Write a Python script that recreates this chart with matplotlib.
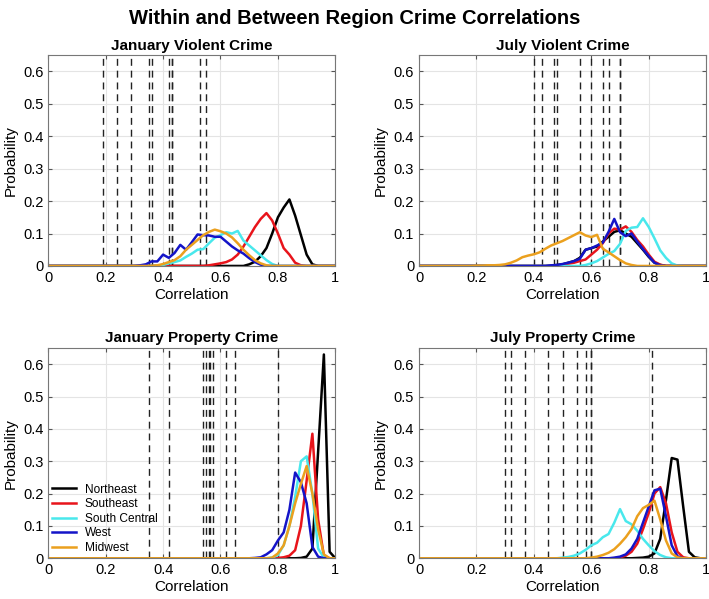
import numpy as np
import matplotlib.pyplot as plt

plt.rcParams['font.family'] = ['Liberation Sans', 'DejaVu Sans']

# correlation bins (0.02 wide)
corr = np.round(np.arange(0, 1.0001, 0.02), 2)

regions = ["Northeast", "Southeast", "South Central", "West", "Midwest"]
region_colors = ["#000000", "#E8141B", "#49E8EC", "#1414C8", "#EBA01E"]

# each curve: (first correlation with a value, probabilities from there on)
jan_violent = {
    "Northeast": (0.70, [0.005, 0.013, 0.03, 0.055, 0.10, 0.15, 0.18, 0.205, 0.155, 0.095, 0.035, 0.005]),
    "Southeast": (0.56, [0.002, 0.005, 0.008, 0.012, 0.02, 0.035, 0.06, 0.09, 0.12, 0.145, 0.163, 0.14, 0.10,
                         0.055, 0.035, 0.01, 0.002]),
    "South Central": (0.40, [0.003, 0.008, 0.012, 0.017, 0.028, 0.038, 0.05, 0.052, 0.07, 0.087, 0.095, 0.104,
                             0.10, 0.108, 0.078, 0.063, 0.048, 0.033, 0.018, 0.006]),
    "West": (0.32, [0.002, 0.005, 0.014, 0.014, 0.035, 0.025, 0.04, 0.065, 0.05, 0.073, 0.097, 0.095, 0.094,
                    0.09, 0.09, 0.075, 0.06, 0.048, 0.038, 0.024, 0.012, 0.004]),
    "Midwest": (0.38, [0.002, 0.006, 0.012, 0.018, 0.03, 0.05, 0.065, 0.08, 0.095, 0.105, 0.112, 0.107, 0.10,
                       0.088, 0.07, 0.05, 0.033, 0.018, 0.008, 0.002]),
}
jul_violent = {
    "Northeast": (0.46, [0.001, 0.003, 0.005, 0.01, 0.015, 0.025, 0.05, 0.055, 0.06, 0.075, 0.09, 0.105, 0.11,
                         0.10, 0.09, 0.07, 0.05, 0.028, 0.01, 0.003]),
    "Southeast": (0.50, [0.004, 0.007, 0.01, 0.015, 0.02, 0.035, 0.05, 0.07, 0.10, 0.115, 0.112, 0.122, 0.105,
                         0.08, 0.06, 0.035, 0.013, 0.004]),
    "South Central": (0.58, [0.003, 0.008, 0.015, 0.026, 0.037, 0.046, 0.068, 0.108, 0.118, 0.12, 0.147, 0.12,
                             0.085, 0.048, 0.025, 0.008, 0.001]),
    "West": (0.46, [0.002, 0.003, 0.006, 0.01, 0.015, 0.022, 0.05, 0.055, 0.063, 0.072, 0.105, 0.145, 0.104,
                    0.092, 0.10, 0.075, 0.052, 0.03, 0.01, 0.002]),
    "Midwest": (0.20, [0.001, 0.001, 0.002, 0.002, 0.003, 0.005, 0.01, 0.017, 0.027, 0.032, 0.036, 0.042, 0.053,
                       0.063, 0.07, 0.077, 0.086, 0.095, 0.104, 0.094, 0.089, 0.096, 0.053, 0.042, 0.03, 0.018,
                       0.008, 0.003]),
}
jan_property = {
    "Northeast": (0.88, [0.001, 0.005, 0.03, 0.33, 0.63, 0.02]),
    "Southeast": (0.80, [0.001, 0.003, 0.008, 0.025, 0.10, 0.24, 0.385, 0.12, 0.008]),
    "South Central": (0.78, [0.002, 0.01, 0.04, 0.10, 0.19, 0.30, 0.315, 0.20, 0.03, 0.002]),
    "West": (0.72, [0.001, 0.003, 0.012, 0.025, 0.055, 0.08, 0.15, 0.265, 0.235, 0.17, 0.035, 0.005]),
    "Midwest": (0.78, [0.002, 0.015, 0.04, 0.10, 0.17, 0.23, 0.285, 0.20, 0.09, 0.012]),
}
jul_property = {
    "Northeast": (0.76, [0.001, 0.002, 0.005, 0.015, 0.06, 0.18, 0.31, 0.305, 0.16, 0.02, 0.003]),
    "Southeast": (0.70, [0.003, 0.008, 0.02, 0.045, 0.09, 0.14, 0.20, 0.22, 0.17, 0.08, 0.02, 0.003]),
    "South Central": (0.50, [0.002, 0.004, 0.008, 0.015, 0.026, 0.04, 0.048, 0.065, 0.075, 0.11, 0.152, 0.115,
                             0.105, 0.085, 0.06, 0.04, 0.022, 0.01, 0.003]),
    "West": (0.68, [0.002, 0.005, 0.012, 0.03, 0.06, 0.11, 0.16, 0.21, 0.215, 0.13, 0.04, 0.006]),
    "Midwest": (0.60, [0.002, 0.005, 0.01, 0.017, 0.028, 0.045, 0.065, 0.09, 0.13, 0.155, 0.165, 0.178, 0.12,
                       0.055, 0.015, 0.003]),
}

# between-region correlations (dashed lines)
jan_violent_between = [0.19, 0.24, 0.29, 0.35, 0.36, 0.42, 0.43, 0.43, 0.53, 0.55]
jul_violent_between = [0.40, 0.43, 0.47, 0.48, 0.56, 0.60, 0.64, 0.66, 0.70, 0.70]
jan_property_between = [0.35, 0.42, 0.54, 0.55, 0.56, 0.565, 0.575, 0.62, 0.65, 0.80]
jul_property_between = [0.30, 0.32, 0.37, 0.45, 0.50, 0.55, 0.58, 0.60, 0.60, 0.81]

panels = [
    ("January Violent Crime", jan_violent, jan_violent_between),
    ("July Violent Crime", jul_violent, jul_violent_between),
    ("January Property Crime", jan_property, jan_property_between),
    ("July Property Crime", jul_property, jul_property_between),
]
axes_pos = [
    [0.068, 0.556, 0.405, 0.352],
    [0.591, 0.556, 0.405, 0.352],
    [0.068, 0.068, 0.405, 0.351],
    [0.591, 0.068, 0.405, 0.351],
]


def full_curve(start, vals):
    y = np.zeros(len(corr))
    i0 = int(round(start / 0.02))
    y[i0:i0 + len(vals)] = vals
    return y


fig = plt.figure(figsize=(7.09, 5.99), dpi=100)
fig.suptitle("Within and Between Region Crime Correlations", fontsize=14.5, fontweight='bold', y=0.985)

for k, (title, curves, between) in enumerate(panels):
    ax = fig.add_axes(axes_pos[k])
    for xv in between:
        ax.axvline(xv, color='#222222', linestyle=(0, (5, 3.5)), linewidth=1.0, zorder=1)
    lines = []
    for name, col in zip(regions, region_colors):
        start, vals = curves[name]
        ln, = ax.plot(corr, full_curve(start, vals), color=col, linewidth=1.8, label=name, zorder=2)
        lines.append(ln)
    ax.set_xlim(0, 1)
    ax.set_ylim(0, 0.65)
    ax.set_xticks([0, 0.2, 0.4, 0.6, 0.8, 1])
    ax.set_xticklabels(['0', '0.2', '0.4', '0.6', '0.8', '1'])
    ax.set_yticks([0, 0.1, 0.2, 0.3, 0.4, 0.5, 0.6])
    ax.set_yticklabels(['0', '0.1', '0.2', '0.3', '0.4', '0.5', '0.6'])
    ax.grid(True, color='#e4e4e4', linewidth=0.8)
    ax.set_axisbelow(True)
    ax.tick_params(direction='in', length=3, labelsize=10.5, color='#555555', top=True, right=True)
    for s in ax.spines.values():
        s.set_color('#777777')
        s.set_linewidth(0.8)
    ax.set_title(title, fontsize=11, fontweight='bold', pad=4)
    ax.set_xlabel("Correlation", fontsize=11, labelpad=2)
    ax.set_ylabel("Probability", fontsize=11, labelpad=4)
    if k == 2:
        ax.legend(handles=lines, loc='lower left', frameon=False, fontsize=8.6, handlelength=2.0,
                  handletextpad=0.7, labelspacing=0.22, borderpad=0.1, borderaxespad=0.25,
                  bbox_to_anchor=(0.0, 0.0))

fig.savefig("out.png", dpi=100)
